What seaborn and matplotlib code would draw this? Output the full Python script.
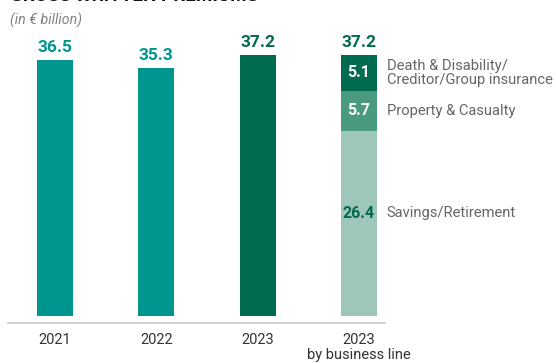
import matplotlib
matplotlib.use("Agg")
import matplotlib.pyplot as plt
import seaborn as sns
import pandas as pd

categories = ["2021", "2022", "2023", "2023\nby business line"]
totals = [36.5, 35.3, 37.2, 37.2]
bar_colors = ["#00968F", "#00968F", "#006B4F", "#9EC6BB"]
label_colors = ["#00968F", "#00968F", "#006B4F", "#006B4F"]

segments = ["Savings/Retirement", "Property & Casualty", "Death & Disability/\nCreditor/Group insurance"]
segment_values = [26.4, 5.7, 5.1]
segment_colors = ["#9EC6BB", "#4A9A80", "#006B4F"]
segment_text_colors = ["#006B4F", "white", "white"]

sns.set_style("white")
plt.rcParams["font.family"] = ["Roboto", "DejaVu Sans"]

W, H = 556, 363
fig = plt.figure(figsize=(W / 100, H / 100), dpi=100)
ax = fig.add_axes([8 / W, (H - 323) / H, 377 / W, 323 / H])

width = 0.355
df = pd.DataFrame({"cat": categories, "val": totals})
df_main = df.iloc[:3]
sns.barplot(data=df_main, x="cat", y="val", hue="cat", order=categories,
            palette=dict(zip(categories, bar_colors)), width=width,
            legend=False, ax=ax, saturation=1, linewidth=0)

cum = []
s = 0
for v in segment_values:
    s += v
    cum.append(s)
for c_val, col in reversed(list(zip(cum, segment_colors))):
    sns.barplot(x=[categories[3]], y=[c_val], order=categories, color=col,
                width=width, ax=ax, saturation=1, linewidth=0)

ax.set_xlim(-0.464, 3.257)
ax.set_ylim(-1.0, 45.0)

for i, (t, lc) in enumerate(zip(totals, label_colors)):
    ax.annotate(f"{t:.1f}", (i, t), xytext=(0, 9.0), textcoords="offset points",
                ha="center", va="center", fontsize=12.5, fontweight="bold", color=lc)

bottoms = [0] + cum[:-1]
for k, (b, v, name, tc) in enumerate(zip(bottoms, segment_values, segments, segment_text_colors)):
    ymid = b + v / 2
    if k == 0:
        ymid = b + v * 0.555
    ax.text(3, ymid, f"{v:.1f}", ha="center", va="center", fontsize=11.5,
            fontweight="bold", color=tc)
    ax.annotate(name, (3 + width / 2, ymid), xytext=(7, 0), textcoords="offset points",
                ha="left", va="center", fontsize=10.6, color="#666666",
                linespacing=1.0, annotation_clip=False)

ax.set_xlabel("")
ax.set_ylabel("")
ax.set_yticks([])
ax.tick_params(axis="x", length=0, labelsize=10.5, labelcolor="#333333", pad=7)
for lbl in ax.get_xticklabels():
    lbl.set_linespacing(1.15)
for sp in ["top", "right", "left"]:
    ax.spines[sp].set_visible(False)
ax.spines["bottom"].set_color("#C8C8C8")
ax.spines["bottom"].set_linewidth(1.2)

fig.text(10 / W, 1 - 5 / H, "GROSS WRITTEN PREMIUMS", ha="left", va="bottom",
         fontsize=13.5, fontweight="bold", color="#111111")
fig.text(10 / W, 1 - 20 / H, "(in € billion)", ha="left", va="center",
         fontsize=10.2, style="italic", color="#808080")

fig.savefig("out.png", dpi=100)
